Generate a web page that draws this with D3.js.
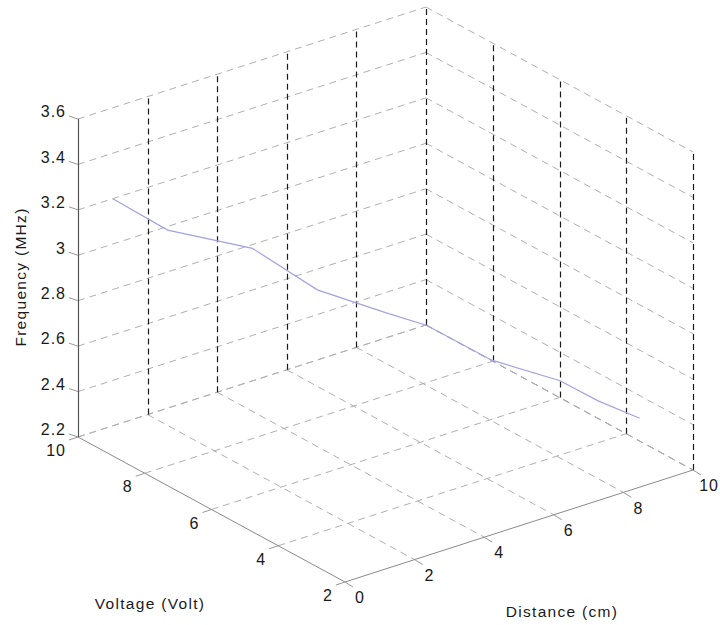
<!DOCTYPE html>
<html>
<head>
<meta charset="utf-8">
<script src="https://cdn.jsdelivr.net/npm/d3@7"></script>
<style>
  body { margin: 0; background: #fff; }
  text { font-family: "Liberation Sans", Arial, sans-serif; font-size: 16px; fill: #1a1a1a; letter-spacing: 1px; }
  text.title { font-size: 15.5px; letter-spacing: 1.3px; }
</style>
</head>
<body>
<div id="chart"></div>
<script>
// measured series (distance in cm, voltage in V, frequency in MHz)
const distance  = [1, 2, 3, 4, 5, 6, 7, 8, 9, 10];
const voltage   = [10, 9.4, 7.9, 7.0, 6.0, 5.8, 4.9, 3.9, 3.8, 3.6];
const frequency = [3.20, 3.06, 3.05, 2.89, 2.82, 2.73, 2.60, 2.54, 2.41, 2.30];

const vTicks = [2, 4, 6, 8, 10];
const dTicks = [0, 2, 4, 6, 8, 10];
const zTicks = [2.2, 2.4, 2.6, 2.8, 3, 3.2, 3.4, 3.6];

const width = 720, height = 625;

const svg = d3.select('#chart').append("svg")
    .attr("width", width)
    .attr("height", height);

// box projection: corner (V=10, D=0, F=2.2) and the three edge vectors
const origin = [78, 437];
const vecV = [267, 145], vecD = [348, -112], vecZ = [0, -318];

const sV = d3.scaleLinear().domain([10, 2]).range([0, 1]);
const sD = d3.scaleLinear().domain([0, 10]).range([0, 1]);
const sZ = d3.scaleLinear().domain([2.2, 3.6]).range([0, 1]);

function proj(v, d, z) {
    const a = sV(v), b = sD(d), c = sZ(z);
    return [origin[0] + a * vecV[0] + b * vecD[0] + c * vecZ[0],
            origin[1] + a * vecV[1] + b * vecD[1] + c * vecZ[1]];
}

const zMin = 2.2, zMax = 3.6;
const grid = svg.append("g");

function seg(p, q, stroke, dash, crisp) {
    const l = grid.append("line")
        .attr("x1", p[0]).attr("y1", p[1])
        .attr("x2", q[0]).attr("y2", q[1])
        .attr("stroke", stroke)
        .attr("stroke-width", 1)
        .attr("stroke-dasharray", dash);
    if (crisp) {
        const x = Math.round(p[0]) + 0.5;
        l.attr("x1", x).attr("x2", x).attr("stroke-width", 1.2);
    }
    return l;
}

const light = "#b0b0b0", dark = "#1a1a1a";

// floor grid
dTicks.filter(d => d > 0).forEach(d => {
    seg(proj(10, d, zMin), proj(2, d, zMin), d === 10 ? "#808080" : light, "7,5");
});
vTicks.filter(v => v > 2).forEach(v => {
    seg(proj(v, 0, zMin), proj(v, 10, zMin), light, "7,5");
});

// back walls: horizontal frequency lines
zTicks.forEach(z => {
    seg(proj(10, 0, z), proj(10, 10, z), light, "7,5");
    seg(proj(10, 10, z), proj(2, 10, z), light, "7,5");
});

// back walls: vertical lines
dTicks.filter(d => d > 0).forEach(d => {
    seg(proj(10, d, zMin), proj(10, d, zMax), dark, "6,4", true);
});
vTicks.filter(v => v < 10).forEach(v => {
    seg(proj(v, 10, zMin), proj(v, 10, zMax), dark, "6,4", true);
});

// axes
const axes = svg.append("g");
const zA = proj(10, 0, zMin), zB = proj(10, 0, zMax);
axes.append("line")
    .attr("x1", Math.round(zA[0]) + 0.5).attr("y1", zA[1])
    .attr("x2", Math.round(zB[0]) + 0.5).attr("y2", zB[1])
    .attr("stroke", "#555").attr("stroke-width", 1.2);
[[proj(10, 0, zMin), proj(2, 0, zMin)], [proj(2, 0, zMin), proj(2, 10, zMin)]].forEach(p => {
    axes.append("line")
        .attr("x1", p[0][0]).attr("y1", p[0][1])
        .attr("x2", p[1][0]).attr("y2", p[1][1])
        .attr("stroke", "#8a8a8a").attr("stroke-width", 1);
});

// frequency ticks + labels
zTicks.forEach(z => {
    const p = proj(10, 0, z);
    axes.append("line")
        .attr("x1", p[0]).attr("y1", p[1])
        .attr("x2", p[0] - 9).attr("y2", p[1] - 3)
        .attr("stroke", "#999");
    axes.append("text")
        .attr("x", p[0] - 12).attr("y", p[1] - 6)
        .attr("text-anchor", "end")
        .attr("dominant-baseline", "middle")
        .text(d3.format("~g")(z));
});

// voltage ticks + labels
vTicks.forEach(v => {
    const p = proj(v, 0, zMin);
    axes.append("line")
        .attr("x1", p[0]).attr("y1", p[1])
        .attr("x2", p[0] - 9).attr("y2", p[1] + 3)
        .attr("stroke", "#999");
    axes.append("text")
        .attr("x", p[0] - 12).attr("y", p[1] + 15)
        .attr("text-anchor", "end")
        .attr("dominant-baseline", "middle")
        .text(v);
});

// distance ticks + labels
dTicks.forEach(d => {
    const p = proj(2, d, zMin);
    axes.append("line")
        .attr("x1", p[0]).attr("y1", p[1])
        .attr("x2", p[0] + 8).attr("y2", p[1] + 5)
        .attr("stroke", "#999");
    const last = d === dTicks[dTicks.length - 1];
    axes.append("text")
        .attr("x", last ? width - 1 : p[0] + 10).attr("y", p[1] + 17)
        .attr("text-anchor", last ? "end" : "start")
        .attr("dominant-baseline", "middle")
        .text(d);
});

// axis titles
svg.append("text").attr("class", "title")
    .attr("transform", "translate(22,277) rotate(-90)")
    .attr("text-anchor", "middle")
    .attr("dominant-baseline", "middle")
    .text("Frequency (MHz)");
svg.append("text").attr("class", "title")
    .attr("x", 150).attr("y", 605)
    .attr("text-anchor", "middle")
    .attr("dominant-baseline", "middle")
    .text("Voltage (Volt)");
svg.append("text").attr("class", "title")
    .attr("x", 562).attr("y", 613)
    .attr("text-anchor", "middle")
    .attr("dominant-baseline", "middle")
    .text("Distance (cm)");

// data line
const pts = distance.map((d, i) => proj(voltage[i], d, frequency[i]));
svg.append("path")
    .datum(pts)
    .attr("fill", "none")
    .attr("stroke", "#a2a2e2")
    .attr("stroke-width", 1.2)
    .attr("d", d3.line());
</script>
</body>
</html>
